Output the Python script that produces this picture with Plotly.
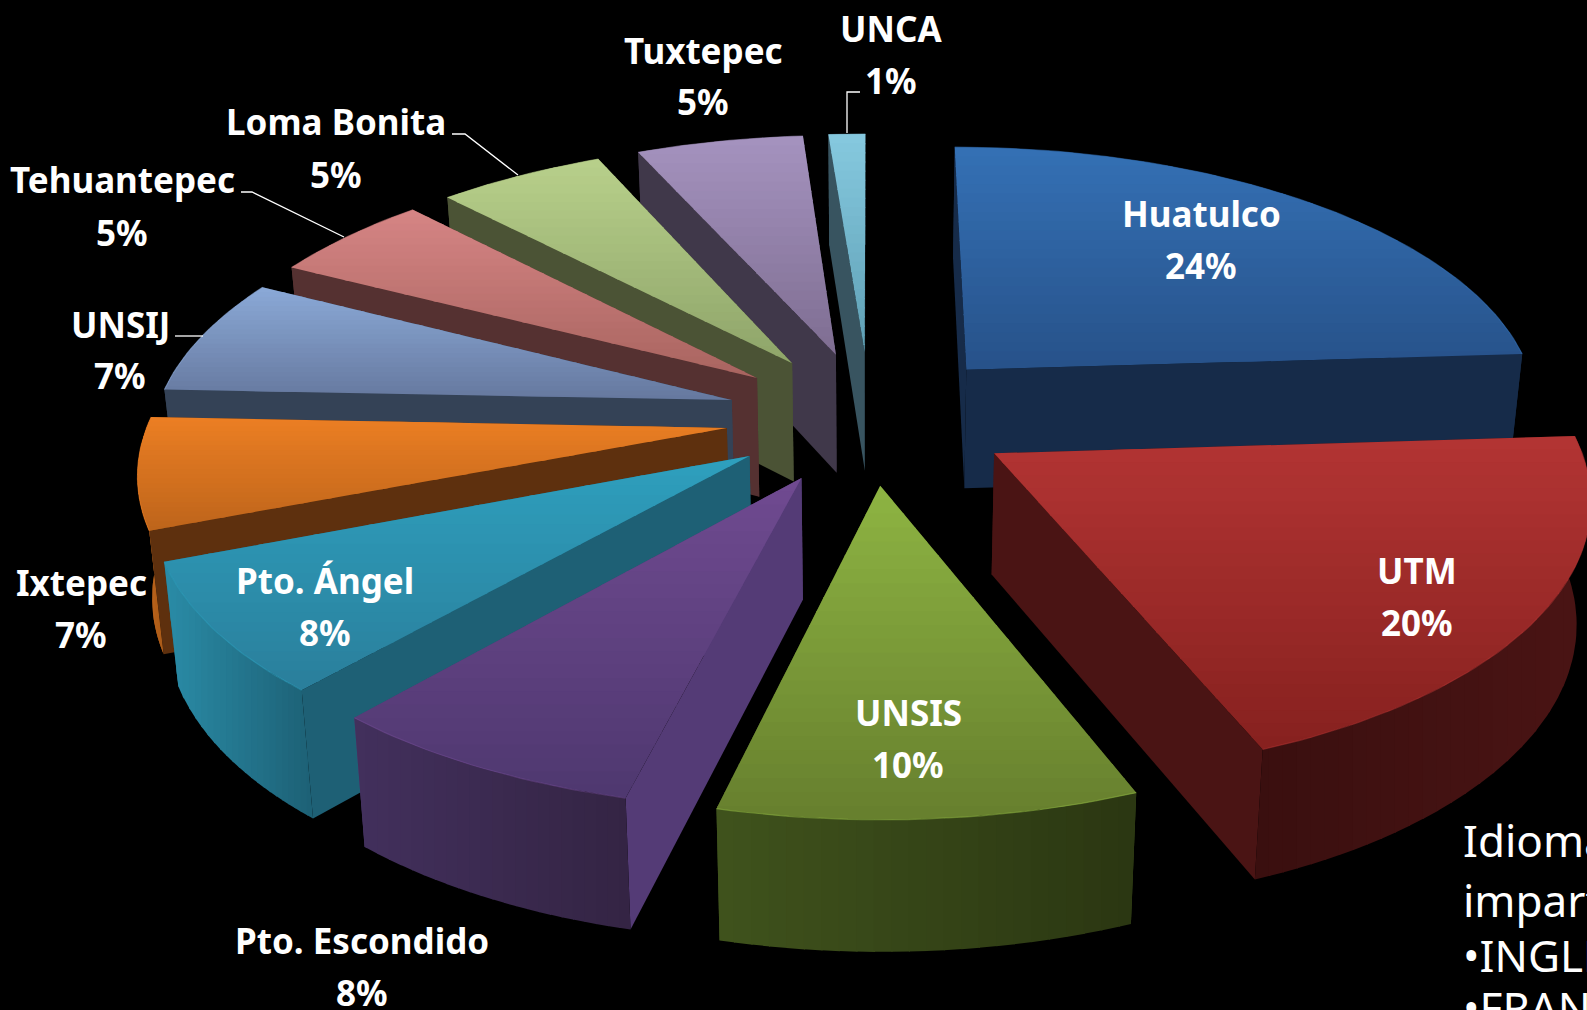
import math
import plotly.graph_objects as go

# ---- data (shares, labels are rounded) ----
campus = ["Huatulco", "UTM", "UNSIS", "Pto. Escondido", "Pto. Ángel", "Ixtepec",
          "UNSIJ", "Tehuantepec", "Loma Bonita", "Tuxtepec", "UNCA"]
percent = [24.0, 20.0, 9.82, 7.58, 7.7, 6.55, 6.95, 5.3, 5.45, 5.45, 1.2]

# ---- styles ----
top_hi = ["#3470B4", "#B23433", "#8DB342", "#6F4A90", "#2E9FBD", "#EB7E23", "#8AA8D6", "#D58484", "#B7CF8A", "#A492BE", "#85C8DE"]
top_lo = ["#27528A", "#87211F", "#67802E", "#4F3870", "#2A7F9C", "#BE651B", "#66799F", "#A96560", "#8FA56A", "#7F6E92", "#5FA0B5"]
side = ["#162B49", "#4A1414", "#3F521C", "#543B76", "#1E6075", "#5E300E", "#344256", "#553131", "#4B5335", "#40384A", "#385460"]
rim_l = ["#162B49", "#3A0F0F", "#3F521C", "#42305C", "#2A8BA6", "#C8691C", "#344256", "#553131", "#4B5335", "#40384A", "#385460"]
rim_r = ["#162B49", "#4A1414", "#2B3712", "#342444", "#1D6176", "#A85A18", "#344256", "#553131", "#4B5335", "#40384A", "#385460"]

name_x = [1201, 1417, 908, 362, 325, 81, 120, 122, 336, 703, 891]
name_y = [213, 570, 712, 940, 580, 582, 324, 179, 121, 50, 28]
pct_y = [265, 622, 764, 992, 632, 634, 375, 232, 174, 101, 80]

leaders = [([452, 465, 518], [134, 134, 175]),
           ([241, 252, 344], [192, 192, 237]),
           ([175, 203], [336, 336]),
           ([860, 847, 847], [92, 92, 133])]

note_lines = ["Idiomas", "imparten", "•INGLES", "•FRANCES"]
note_y = [840, 900, 955, 1007]

W, H = 1587, 1010
CX, CY, AX, BY, PERSP, EXPLODE, DEPTH, SHRINK = 870, 417, 577, 266, 0.14, 0.25, 120, 0.98


def hex2rgb(c):
    return tuple(int(c[i:i + 2], 16) for i in (1, 3, 5))


def mix(a, b, t):
    ra, rb = hex2rgb(a), hex2rgb(b)
    return "rgb(%d,%d,%d)" % tuple(round(x + (y - x) * t) for x, y in zip(ra, rb))


def project(u, v, low=False):
    s = 1 / (1 - PERSP * v)
    x = AX * u * s
    y = BY * v * s
    if low:
        return CX + x * SHRINK, CY + y + DEPTH * s ** 0.5
    return CX + x, CY + y


def clip(poly, axis, lo, hi):
    def half(pts, keep, cross):
        out = []
        for i, p in enumerate(pts):
            q = pts[(i + 1) % len(pts)]
            kp, kq = keep(p), keep(q)
            if kp:
                out.append(p)
            if kp != kq:
                t = cross(p, q)
                out.append((p[0] + (q[0] - p[0]) * t, p[1] + (q[1] - p[1]) * t))
        return out

    pts = half(poly, lambda p: p[axis] >= lo, lambda p, q: (lo - p[axis]) / (q[axis] - p[axis]))
    if pts:
        pts = half(pts, lambda p: p[axis] <= hi, lambda p, q: (hi - p[axis]) / (q[axis] - p[axis]))
    return pts


def fill(fig, poly, color):
    xs = [p[0] for p in poly] + [poly[0][0]]
    ys = [p[1] for p in poly] + [poly[0][1]]
    fig.add_trace(go.Scatter(x=xs, y=ys, mode="lines", fill="toself", fillcolor=color,
                             line=dict(width=0), hoverinfo="skip", showlegend=False))


def gradient(fig, poly, axis, c0, c1, n):
    vals = [p[axis] for p in poly]
    lo, hi = min(vals), max(vals)
    step = (hi - lo) / n
    for k in range(n):
        piece = clip(poly, axis, lo + k * step, lo + (k + 1) * step + 1.2)
        if len(piece) >= 3:
            fill(fig, piece, mix(c0, c1, k / max(n - 1, 1)))


fig = go.Figure()

slices = []
cum = 0
total = sum(percent)
for i, val in enumerate(percent):
    a0 = cum / total * 2 * math.pi
    cum += val
    a1 = cum / total * 2 * math.pi
    mid = (a0 + a1) / 2
    ou, ov = EXPLODE * math.sin(mid), -EXPLODE * math.cos(mid)
    steps = max(3, round(val * 3))
    arc = [(ou + math.sin(a0 + (a1 - a0) * j / steps), ov - math.cos(a0 + (a1 - a0) * j / steps))
           for j in range(steps + 1)]
    slices.append((project(ou, ov)[1], i, (ou, ov), arc))

for _, i, apex, arc in sorted(slices, key=lambda s: s[0]):
    top = [project(*apex)] + [project(*p) for p in arc]
    low_apex = project(*apex, low=True)
    arc_top = [project(*p) for p in arc]
    arc_low = [project(*p, low=True) for p in arc]
    start_wall = [top[0], arc_top[0], arc_low[0], low_apex]
    end_wall = [top[0], arc_top[-1], arc_low[-1], low_apex]
    rim = arc_top + arc_low[::-1]
    faces = [("side", start_wall), ("side", end_wall), ("rim", rim)]
    faces.sort(key=lambda f: sum(p[1] for p in f[1]) / len(f[1]))
    for kind, poly in faces:
        if kind == "side":
            fill(fig, poly, side[i])
        else:
            gradient(fig, poly, 0, rim_l[i], rim_r[i], 24)
    gradient(fig, top, 1, top_hi[i], top_lo[i], 24)
    fig.add_trace(go.Scatter(x=[p[0] for p in arc_top], y=[p[1] for p in arc_top], mode="lines",
                             line=dict(color=top_hi[i], width=1.2), opacity=0.55,
                             hoverinfo="skip", showlegend=False))

for lx, ly in leaders:
    fig.add_trace(go.Scatter(x=lx, y=ly, mode="lines", line=dict(color="white", width=1.3),
                             hoverinfo="skip", showlegend=False))

LABEL = dict(family="Noto Sans, Open Sans, sans-serif", size=35, color="white")
NOTE = dict(family="Noto Sans, Open Sans, sans-serif", size=44, color="white")
notes = []
for i, name in enumerate(campus):
    for txt, yy in ((name, name_y[i]), (f"{round(percent[i])}%", pct_y[i])):
        notes.append(dict(x=name_x[i], y=yy, text=f"<b>{txt}</b>", showarrow=False, font=LABEL,
                          xanchor="center", yanchor="middle", xref="x", yref="y"))
for txt, yy in zip(note_lines, note_y):
    notes.append(dict(x=1461, y=yy, text=txt, showarrow=False, font=NOTE,
                      xanchor="left", yanchor="middle", xref="x", yref="y"))

fig.update_layout(width=W, height=H, margin=dict(l=0, r=0, t=0, b=0),
                  paper_bgcolor="black", plot_bgcolor="black", showlegend=False,
                  annotations=notes,
                  xaxis=dict(range=[0, W], visible=False, fixedrange=True),
                  yaxis=dict(range=[H, 0], visible=False, fixedrange=True))
fig.write_html("out.html", config=dict(displayModeBar=False),
               post_script="document.body.style.margin='0';document.body.style.background='black';"
                           "document.body.style.overflow='hidden';")
